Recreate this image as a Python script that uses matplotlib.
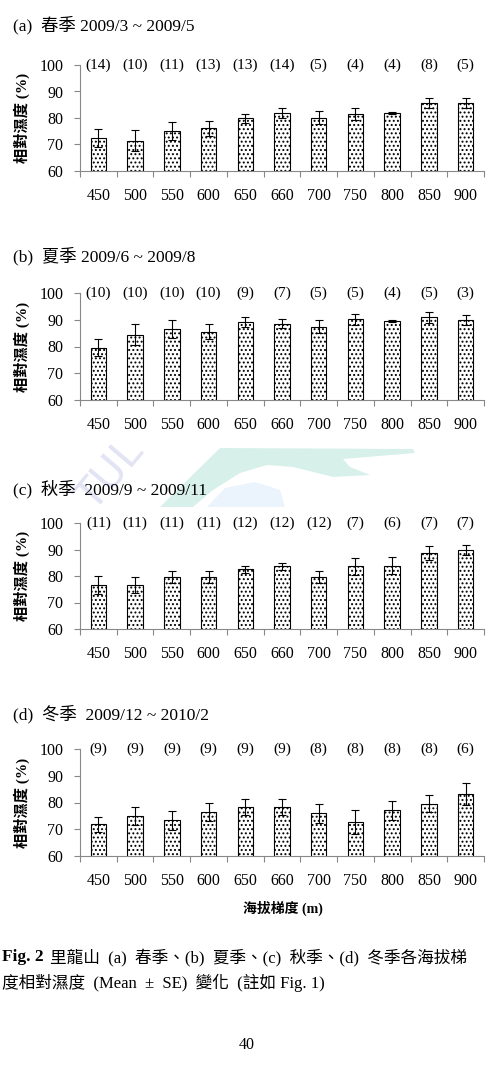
import numpy as np
import matplotlib.pyplot as plt
from matplotlib.patches import Polygon

plt.rcParams['font.family'] = ['Liberation Serif', 'Noto Sans CJK TC']
plt.rcParams['hatch.linewidth'] = 0.9

elev = ['450', '500', '550', '600', '650', '660', '700', '750', '800', '850', '900']

titles = ['(a)  春季 2009/3 ~ 2009/5',
          '(b)  夏季 2009/6 ~ 2009/8',
          '(c)  秋季  2009/9 ~ 2009/11',
          '(d)  冬季  2009/12 ~ 2010/2']

spring_mean = [72.3, 71.4, 75.2, 76.1, 79.9, 81.8, 80.1, 81.6, 81.9, 85.8, 85.5]
spring_se = [3.4, 3.9, 3.4, 2.8, 1.7, 1.8, 2.4, 2.3, 0.3, 1.9, 1.9]
spring_n = [14, 10, 11, 13, 13, 14, 5, 4, 4, 8, 5]

summer_mean = [79.6, 84.4, 86.4, 85.6, 89.1, 88.5, 87.4, 90.1, 89.6, 90.9, 90.0]
summer_se = [3.1, 3.9, 3.4, 2.8, 1.8, 1.7, 2.5, 2.2, 0.3, 2.0, 1.9]
summer_n = [10, 10, 10, 10, 9, 7, 5, 5, 4, 5, 3]

autumn_mean = [76.6, 76.6, 79.6, 79.6, 82.6, 83.6, 79.6, 83.6, 83.9, 88.6, 89.8]
autumn_se = [3.3, 3.0, 2.4, 2.4, 1.3, 1.4, 2.3, 3.1, 3.1, 2.6, 1.9]
autumn_n = [11, 11, 11, 11, 12, 12, 12, 7, 6, 7, 7]

winter_mean = [71.8, 75.0, 73.3, 76.3, 78.3, 78.4, 76.0, 72.8, 77.1, 79.6, 83.1]
winter_se = [2.9, 3.5, 3.5, 3.4, 2.9, 3.0, 3.6, 4.4, 3.6, 3.2, 4.1]
winter_n = [9, 9, 9, 9, 9, 9, 8, 8, 8, 8, 6]

means = [spring_mean, summer_mean, autumn_mean, winter_mean]
ses = [spring_se, summer_se, autumn_se, winter_se]
ns = [spring_n, summer_n, autumn_n, winter_n]

W, H = 494, 1074
fig = plt.figure(figsize=(W / 100, H / 100), dpi=100)

# faint watermark between panels (b) and (c)
wm = fig.add_axes([0, 0, 1, 1], zorder=-1)
wm.set_xlim(0, W)
wm.set_ylim(H, 0)
wm.axis('off')
wm.add_patch(Polygon([[160, 507], [220, 448], [413, 449], [415, 453], [343, 459], [350, 467],
                      [370, 475], [333, 477], [293, 467], [267, 465], [240, 473], [213, 490],
                      [193, 507]], closed=True, color='#3cb89a', alpha=0.2, lw=0))
wm.add_patch(Polygon([[207, 507], [225, 488], [255, 482], [280, 490], [285, 507]],
                     closed=True, color='#9cc8f0', alpha=0.2, lw=0))
wm.text(110, 475, 'TUL', fontsize=30, color='#d6d8ee', rotation=50, ha='center', va='center',
        family='DejaVu Sans', alpha=0.7)

# pixel rows of each axes (top = 100 %, bottom = 60 %)
tops = [65, 293, 523, 749]
bottoms = [171, 400, 629, 856]
title_y = [25, 256, 489, 714]
left, right = 80, 484

x = np.arange(len(elev))
for i in range(4):
    ax = fig.add_axes([left / W, 1 - bottoms[i] / H, (right - left) / W, (bottoms[i] - tops[i]) / H])
    ax.patch.set_alpha(0)
    ax.bar(x, means[i], width=0.42, color='white', edgecolor='black',
           hatch='....', linewidth=0.8)
    ax.errorbar(x, means[i], yerr=ses[i], fmt='none', ecolor='black', elinewidth=0.8,
                capsize=3, capthick=0.8)
    ax.set_xlim(-0.5, len(elev) - 0.5)
    ax.set_ylim(60, 100)
    ax.set_yticks([60, 70, 80, 90, 100])
    ax.set_xticks(x)
    ax.set_xticklabels(elev, fontsize=11.5)
    ax.set_xticks(np.arange(-0.5, len(elev)), minor=True)
    ax.tick_params(axis='x', which='major', length=0, pad=12)
    ax.tick_params(axis='x', which='minor', length=4, direction='out', color='#888888', width=0.8)
    ax.tick_params(axis='y', length=4, direction='out', color='#888888', width=0.8,
                   labelsize=11.5, pad=8)
    for s in ['top', 'right']:
        ax.spines[s].set_visible(False)
    for s in ['left', 'bottom']:
        ax.spines[s].set_color('#888888')
        ax.spines[s].set_linewidth(0.8)
    for j, n in enumerate(ns[i]):
        ax.text(x[j], 100, '(%d)' % n, ha='center', va='center', fontsize=11, clip_on=False)
    ax.set_ylabel('相對濕度 (%)', fontsize=11, fontweight='bold', labelpad=7)
    fig.text(13 / W, 1 - title_y[i] / H, titles[i], fontsize=12.5, va='center', ha='left')

fig.text(283 / W, 1 - 908 / H, '海拔梯度 (m)', fontsize=10, fontweight='bold', ha='center', va='center')
fig.text(2 / W, 1 - 957 / H, 'Fig. 2', fontsize=12.5, fontweight='bold', ha='left', va='center')
fig.text(50 / W, 1 - 957 / H, '里龍山  (a)  春季、(b)  夏季、(c)  秋季、(d)  冬季各海拔梯',
         fontsize=12, ha='left', va='center')
fig.text(2 / W, 1 - 983 / H, '度相對濕度  (Mean  ±  SE)  變化  (註如 Fig. 1)',
         fontsize=12, ha='left', va='center')
fig.text(247 / W, 1 - 1045 / H, '40', fontsize=11.5, ha='center', va='center')

fig.savefig('out.png', dpi=100)
